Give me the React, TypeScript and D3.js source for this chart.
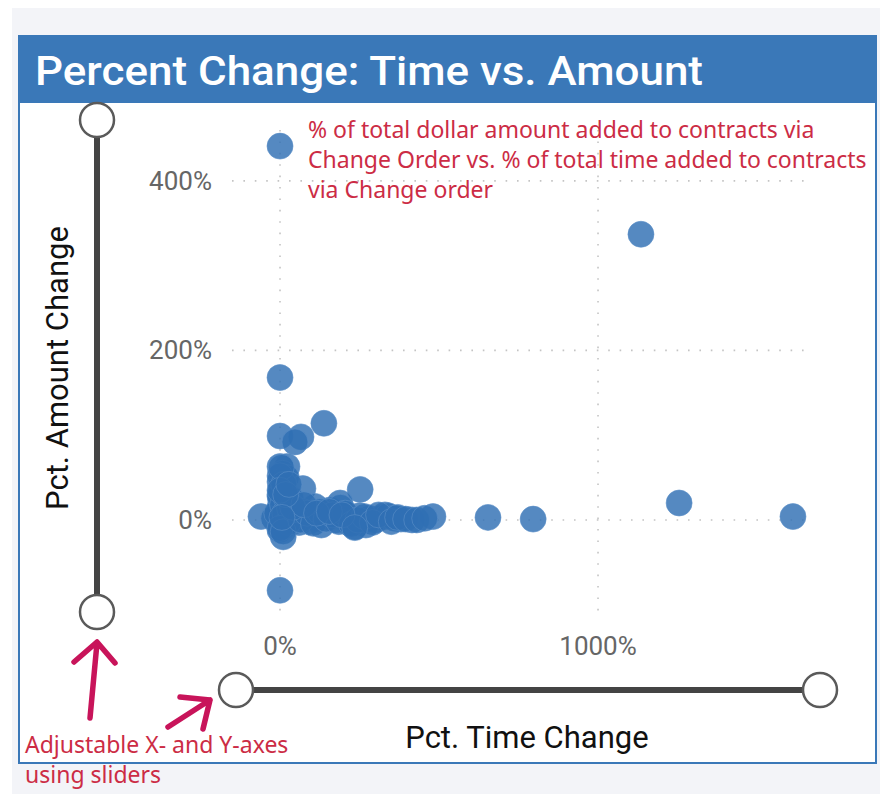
import { useEffect, useRef } from "react";
import * as d3 from "d3";

// Pct. Time Change (x) and Pct. Amount Change (y), one entry per contract
const pctTime = [
  0, 1135, 0, 0, 66, 47, 138, 0, 22, 8, 252, 72, 1255, 1613, 796, 654, 481, 415, 380, 330,
  236, 220, 0, -60, 10, 0, 189,
  0, 5, 0, 15, 3, 0, 10, 25, 0, 5, 18, 30, 40, 2, 12, 55, 80, 100, 120, 150, 175, 200, 60,
  90, 130, 160, 190, 210, 250, 280, 300, 320, 270, 110, 20, 35, 45, 70, -20, -10, 340, 360,
  0, 8, 15, 25, 0, 12, 4, 20, 30, 0, 10, 45, 65, 85, 105, 125, 145, 165, 185, 205, 225, 245,
  265, 290, 310, 350, 370, 395, 430, 455, 40, 75, 115, 155, 195, 235, 0, 18, 6, 28,
];
const pctAmount = [
  441, 337, 168, 99, 98, 92, 114, 63, 63, 55, 36, 37, 20, 4, 1, 3, 4, 0, 1, 6,
  -8, -4, -83, 4, -20, -12, 20,
  45, 40, 30, 35, 22, 15, 10, 12, 5, 0, 2, 20, 8, -5, -8, 5, 3, 6, 2, 4, 0, 3, -3,
  -2, -6, 12, 15, 1, 5, 2, 0, 3, -6, 16, 50, 25, -2, 10, 2, 8, 5, 2,
  28, 18, 8, -3, 52, 42, 62, 26, 14, -10, -14, 12, 0, 8, -4, 10, 1, 6, -2, 8, -5, 0,
  4, -3, 6, -2, 3, 1, 0, 2, 15, 18, 8, 10, 6, -9, 35, 30, 3, 42,
];

const xTicks = [0, 1000];
const yTicks = [0, 200, 400];

const title = "Percent Change: Time vs. Amount";
const noteLines = [
  "% of total dollar amount added to contracts via",
  "Change Order vs. % of total time added to contracts",
  "via Change order",
];
const sliderNote = ["Adjustable X- and Y-axes", "using sliders"];

export default function App() {
  const svgRef = useRef<SVGSVGElement>(null);
  const width = 886;
  const height = 794;

  useEffect(() => {
    if (!svgRef.current) return;
    d3.select(svgRef.current).selectAll("*").remove();
    const svg = d3.select(svgRef.current);

    const blue = "#3a78b8";
    const red = "#cc2c45";
    const arrowCol = "#c8145a";
    const tickFont = "Roboto, sans-serif";
    const noteFont = "'Noto Sans', sans-serif";

    // page + card
    svg.append("rect").attr("x", 0).attr("y", 0).attr("width", width).attr("height", height).attr("fill", "#fff");
    svg.append("rect").attr("x", 12).attr("y", 8).attr("width", 868).attr("height", 786).attr("fill", "#f3f4f8");
    svg.append("rect").attr("x", 19).attr("y", 36).attr("width", 857).attr("height", 727)
      .attr("fill", "#fff").attr("stroke", blue).attr("stroke-width", 2);
    svg.append("rect").attr("x", 19).attr("y", 36).attr("width", 857).attr("height", 67).attr("fill", blue);
    svg.append("text").attr("x", 35).attr("y", 85)
      .attr("font-family", tickFont).attr("font-size", 41).attr("font-weight", 500).attr("fill", "#fff")
      .attr("textLength", 668).attr("lengthAdjust", "spacingAndGlyphs")
      .text(title);

    // scales
    const x = d3.scaleLinear().domain([-151, 1676]).range([232, 813]);
    const y = d3.scaleLinear().domain([-118, 460]).range([620, 130]);

    // gridlines
    const grid = svg.append("g").attr("stroke", "#c4c4c4").attr("stroke-width", 1.6)
      .attr("stroke-dasharray", "1.6 9.8");
    grid.selectAll("line.h").data(yTicks).enter().append("line")
      .attr("x1", x.range()[0]).attr("x2", x.range()[1])
      .attr("y1", (d) => y(d)).attr("y2", (d) => y(d));
    grid.selectAll("line.v").data(xTicks).enter().append("line")
      .attr("x1", (d) => x(d)).attr("x2", (d) => x(d))
      .attr("y1", y.range()[1]).attr("y2", y.range()[0]);

    // tick labels
    svg.append("g").selectAll("text").data(yTicks).enter().append("text")
      .attr("x", 212).attr("y", (d) => y(d) + 9)
      .attr("text-anchor", "end").attr("font-family", tickFont).attr("font-size", 26)
      .attr("fill", "#666").text((d) => `${d}%`);
    svg.append("g").selectAll("text").data(xTicks).enter().append("text")
      .attr("x", (d) => x(d)).attr("y", 655)
      .attr("text-anchor", "middle").attr("font-family", tickFont).attr("font-size", 26)
      .attr("fill", "#666").text((d) => `${d}%`);

    // points
    const pts = pctTime.map((t, i) => ({ t, a: pctAmount[i] }));
    svg.append("g").selectAll("circle").data(pts).enter().append("circle")
      .attr("cx", (d) => x(d.t)).attr("cy", (d) => y(d.a)).attr("r", 13)
      .attr("fill", "#2f6fb3").attr("fill-opacity", 0.82)
      .attr("stroke", "#5b90c8").attr("stroke-opacity", 0.6).attr("stroke-width", 1);

    // sliders
    const knob = (cx: number, cy: number) =>
      svg.append("circle").attr("cx", cx).attr("cy", cy).attr("r", 17)
        .attr("fill", "#fff").attr("stroke", "#5a5a5a").attr("stroke-width", 2.5);
    svg.append("line").attr("x1", 97).attr("x2", 97).attr("y1", 120).attr("y2", 612)
      .attr("stroke", "#444").attr("stroke-width", 6);
    knob(97, 120);
    knob(97, 612);
    svg.append("line").attr("x1", 236).attr("x2", 820).attr("y1", 690).attr("y2", 690)
      .attr("stroke", "#444").attr("stroke-width", 6);
    knob(236, 690);
    knob(820, 690);

    // axis titles
    svg.append("text").attr("transform", "translate(68,368) rotate(-90)")
      .attr("text-anchor", "middle").attr("font-family", tickFont).attr("font-size", 31)
      .attr("fill", "#111").text("Pct. Amount Change");
    svg.append("text").attr("x", 527).attr("y", 748)
      .attr("text-anchor", "middle").attr("font-family", tickFont).attr("font-size", 31)
      .attr("fill", "#111").text("Pct. Time Change");

    // annotations
    svg.append("g").selectAll("text").data(noteLines).enter().append("text")
      .attr("x", 308).attr("y", (_, i) => 138 + i * 30)
      .attr("font-family", noteFont).attr("font-size", 23)
      .attr("fill", red).text((d) => d);
    svg.append("g").selectAll("text").data(sliderNote).enter().append("text")
      .attr("x", 25).attr("y", (_, i) => 753 + i * 30)
      .attr("font-family", noteFont).attr("font-size", 23)
      .attr("fill", red).text((d) => d);

    // arrows
    const arrows = svg.append("g").attr("stroke", arrowCol).attr("stroke-width", 5.5)
      .attr("fill", "none").attr("stroke-linecap", "round").attr("stroke-linejoin", "round");
    arrows.append("path").attr("d", "M90,718 L97,643 M74,662 L97,642 L115,663");
    arrows.append("path").attr("d", "M168,727 L210,700 M180,697 L210,700 L203,729");
  }, []);

  return (
    <div style={{ position: "absolute", left: 0, top: 0 }}>
      <svg ref={svgRef} width={width} height={height} style={{ display: "block" }} />
    </div>
  );
}
